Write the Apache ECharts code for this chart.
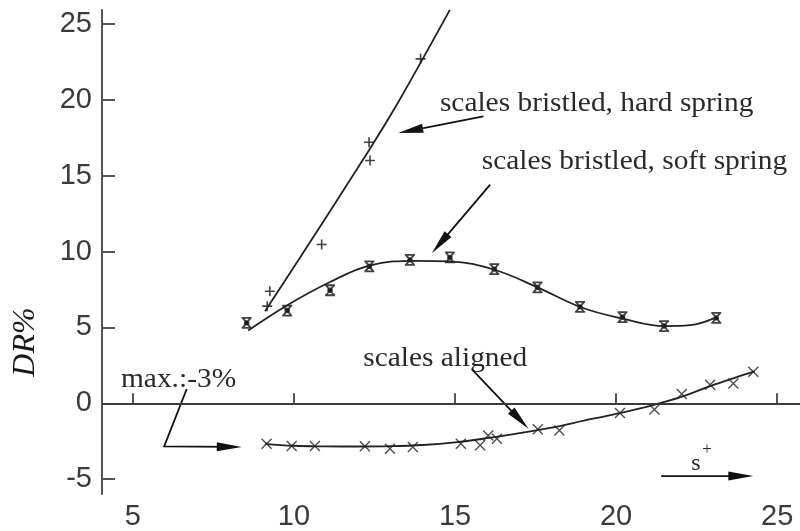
<!DOCTYPE html>
<html>
<head>
<meta charset="utf-8">
<script src="https://cdn.jsdelivr.net/npm/echarts@6/dist/echarts.min.js"></script>
<style>html,body{margin:0;padding:0;background:#fff;}#c{width:800px;height:531px;}</style>
</head>
<body>
<div id="c"></div>
<script>
// ---- data ----
var xTicks = [5, 10, 15, 20, 25];
var yTicks = [-5, 0, 5, 10, 15, 20, 25];

// scales bristled, hard spring (+)
var hardX = [9.17, 9.25, 10.86, 12.33, 12.36, 13.93];
var hardY = [6.40, 7.38, 10.46, 17.20, 16.00, 22.70];
var hardCurveX = [9.10, 10.19, 12.29, 13.29, 14.84];
var hardCurveY = [6.07, 9.61, 16.55, 20.04, 25.93];

// scales bristled, soft spring (asterisk)
var softX = [8.53, 9.79, 11.12, 12.34, 13.60, 14.84, 16.22, 17.56, 18.88, 20.20, 21.49, 23.11];
var softY = [5.30, 6.11, 7.45, 9.02, 9.45, 9.61, 8.84, 7.64, 6.35, 5.68, 5.09, 5.63];
var softCurveX = [8.58, 9.78, 11.12, 12.34, 13.81, 14.84, 16.22, 17.56, 18.91, 20.18, 21.52, 22.30, 23.07];
var softCurveY = [4.80, 6.45, 7.99, 9.08, 9.39, 9.35, 8.80, 7.64, 6.33, 5.59, 5.09, 5.15, 5.63];

// scales aligned (x)
var alignedX = [9.15, 9.93, 10.65, 12.20, 12.98, 13.69, 15.18, 15.78, 16.03, 16.30, 17.57, 18.24, 20.12, 21.19, 22.04, 22.92, 23.64, 24.26];
var alignedY = [-2.67, -2.82, -2.82, -2.84, -2.99, -2.88, -2.67, -2.77, -2.12, -2.34, -1.72, -1.79, -0.64, -0.41, 0.61, 1.22, 1.31, 2.08];
var alignedCurveX = [9.10, 10, 11, 12, 13, 14, 15, 16, 17, 18, 19, 20, 21, 22, 23, 24, 24.30];
var alignedCurveY = [-2.67, -2.80, -2.84, -2.85, -2.83, -2.75, -2.58, -2.30, -1.97, -1.60, -1.15, -0.70, -0.20, 0.40, 1.20, 1.90, 2.10];

// annotations (text baselines + arrows, in data coordinates)
var annText = ["scales bristled, hard spring", "scales bristled, soft spring", "scales aligned", "max.:-3%"];
var annTextX = [14.53, 15.83, 12.15, 4.63];
var annTextY = [19.50, 15.67, 2.68, 1.27];
var sPlusX = 22.33, sPlusY = -4.15;
var arrows = [
  [[15.88, 18.91], [13.24, 17.81]],
  [[16.09, 14.41], [14.28, 9.89]],
  [[15.52, 2.25], [17.28, -1.68]],
  [[6.67, 0.94], [5.97, -2.84], [8.38, -2.88]],
  [[21.40, -4.80], [24.26, -4.80]]
];

function zip(a, b) { return a.map(function (v, i) { return [v, b[i]]; }); }

var chart = echarts.init(document.getElementById('c'), null, {renderer: 'canvas'});
var axisCol = '#555';
var labelFont = "'Liberation Sans Narrow','Liberation Sans',Arial,sans-serif";
var serif = "'Liberation Serif','DejaVu Serif',serif";

var plusPath = 'path://M0,5H10M5,0V10';
var crossPath = 'path://M0,0L10,10M10,0L0,10';
var starPath = 'path://M0,0H10M0,10H10M1,0L9,10M9,0L1,10M3.2,3.2H6.8V6.8H3.2Z';

chart.setOption({
  animation: false,
  grid: {left: 102, right: 0, top: 10, bottom: 34, containLabel: false},
  xAxis: {
    type: 'value', min: 4.04, max: 25.71,
    axisLine: {show: true, lineStyle: {color: axisCol, width: 2}},
    axisTick: {show: true, inside: true, length: 10, lineStyle: {color: axisCol, width: 2}, customValues: xTicks},
    axisLabel: {show: true, customValues: xTicks, fontFamily: labelFont, fontSize: 29, color: '#3a3a3a', margin: 8},
    splitLine: {show: false}
  },
  yAxis: {
    type: 'value', min: -5.98, max: 25.92,
    axisLine: {show: true, lineStyle: {color: axisCol, width: 2}},
    axisTick: {show: true, inside: true, length: 13, lineStyle: {color: axisCol, width: 2}, customValues: yTicks},
    axisLabel: {show: true, customValues: yTicks, fontFamily: labelFont, fontSize: 29, color: '#3a3a3a', margin: 10},
    splitLine: {show: false}
  },
  series: [
    {type: 'line', data: zip(hardCurveX, hardCurveY), smooth: 0.3, showSymbol: false, symbol: 'none',
     lineStyle: {color: '#222', width: 1.8}, clip: true,
     markLine: {silent: true, symbol: ['none', 'none'], label: {show: false},
       lineStyle: {color: '#333', width: 1.5, type: 'solid'}, data: [{yAxis: 0}]}},
    {type: 'line', data: zip(softCurveX, softCurveY), smooth: 0.4, showSymbol: false, symbol: 'none',
     lineStyle: {color: '#222', width: 1.8}},
    {type: 'line', data: zip(alignedCurveX, alignedCurveY), smooth: 0.4, showSymbol: false, symbol: 'none',
     lineStyle: {color: '#222', width: 1.8}},
    {type: 'scatter', data: zip(hardX, hardY), symbol: plusPath, symbolSize: 10,
     itemStyle: {color: 'rgba(0,0,0,0)', borderColor: '#111', borderWidth: 1.6}},
    {type: 'scatter', data: zip(softX, softY), symbol: starPath, symbolSize: 10,
     itemStyle: {color: '#111', borderColor: '#111', borderWidth: 1.8}},
    {type: 'scatter', data: zip(alignedX, alignedY), symbol: crossPath, symbolSize: 10,
     itemStyle: {color: 'rgba(0,0,0,0)', borderColor: '#222', borderWidth: 1.4}}
  ]
});

function px(p) { return chart.convertToPixel({gridIndex: 0}, p); }

var g = [];
// annotation texts (y given as baseline)
annText.forEach(function (t, i) {
  var p = px([annTextX[i], annTextY[i]]);
  g.push({type: 'text', x: p[0], y: p[1] + 10, scaleX: 1.05,
    style: {text: t, font: '28px ' + serif, fill: '#2a2a2a', textVerticalAlign: 'bottom', textAlign: 'left'}});
});
// s+ label
var sp = px([sPlusX, sPlusY]);
g.push({type: 'text', x: sp[0], y: sp[1] + 9, style: {text: 's', font: '24px ' + serif, fill: '#2a2a2a', textVerticalAlign: 'bottom', textAlign: 'left'}});
g.push({type: 'text', x: sp[0] + 16, y: sp[1] - 17, style: {text: '+', font: '17px ' + serif, fill: '#2a2a2a', textVerticalAlign: 'middle', textAlign: 'center'}});

// arrows
arrows.forEach(function (a) {
  var pts = a.map(px);
  var n = pts.length;
  var tip = pts[n - 1], prev = pts[n - 2];
  var dx = tip[0] - prev[0], dy = tip[1] - prev[1];
  var len = Math.sqrt(dx * dx + dy * dy);
  var ux = dx / len, uy = dy / len;
  var L = 25, W = 4.5;
  var bx = tip[0] - ux * L, by = tip[1] - uy * L;
  var shaft = pts.slice(0, n - 1).concat([[tip[0] - ux * 10, tip[1] - uy * 10]]);
  g.push({type: 'polyline', shape: {points: shaft}, style: {stroke: '#111', lineWidth: 1.8, fill: null}});
  g.push({type: 'polygon', shape: {points: [tip, [bx - uy * W, by + ux * W], [bx + uy * W, by - ux * W]]},
    style: {fill: '#111', stroke: null}});
});

// y axis title
g.push({type: 'text', x: 26, y: 342, rotation: Math.PI / 2,
  style: {text: 'DR%', font: 'italic 32px ' + serif, fill: '#1a1a1a', textAlign: 'center', textVerticalAlign: 'middle'}});

chart.setOption({graphic: g});
</script>
</body>
</html>
